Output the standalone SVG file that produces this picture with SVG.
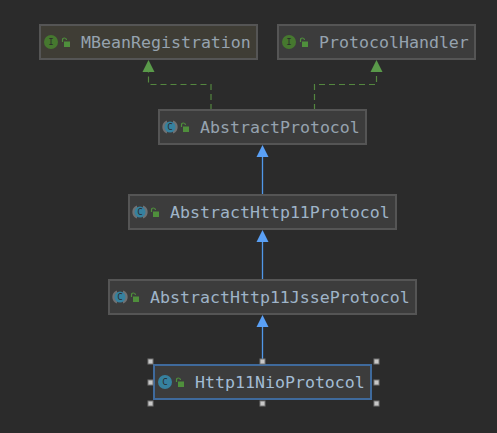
<svg xmlns="http://www.w3.org/2000/svg" width="497" height="433" viewBox="0 0 497 433">
<style>
.box{fill:#3c3c3c;stroke:#555555;stroke-width:2}
.t{font-family:"DejaVu Sans Mono","Liberation Mono",monospace;font-size:16.6px;fill:#96a3af}
.dash{fill:none;stroke:#54873f;stroke-width:1.2;stroke-dasharray:6 4}
.solid{fill:none;stroke:#5097e8;stroke-width:1.3}
.ha{fill:#5a9a4a}
.ba{fill:#5aa0f5}
.ic{fill:#46782f}
.cc{fill:#36819f}
.il{font-family:"DejaVu Sans Mono",monospace;font-size:9px;text-anchor:middle}
.lock{fill:#4f8f3c}
.shackle{fill:none;stroke:#4f8f3c;stroke-width:1.2}
.h{fill:#c8c8c8;stroke:#777;stroke-width:1}
</style>
<defs>
<g id="lk"><rect x="1.500" y="2.500" width="6" height="5.500" class="lock"/><path d="M0 3V1Q0 -1 2 -1Q3.800 -1 4 1" class="shackle"/></g>
<g id="abs"><path d="M-3 -6.600A7 7 0 0 0 -3 6.600ZM3 -6.600A7 7 0 0 1 3 6.600Z" fill="#6f7173"/></g>
</defs>
<rect width="497" height="433" fill="#2b2b2b"/>
<g id="connectors">
<path class="dash" d="M211 110V84.500H148.500V71"/>
<path class="dash" d="M314.500 110V84.500H376.500V71"/>
<path class="solid" d="M262.500 195V156M262.500 280V241M262.500 365V326"/>
<path class="ha" d="M148.500 60L154.500 72H142.500Z"/>
<path class="ha" d="M376.500 60L382.500 72H370.500Z"/>
<path class="ba" d="M262.500 145L268.500 157H256.500Z"/>
<path class="ba" d="M262.500 230L268.500 242H256.500Z"/>
<path class="ba" d="M262.500 315L268.500 327H256.500Z"/>
</g>
<g id="node-mbean">
<rect x="40" y="25" width="217" height="34" class="box" style="fill:#3f3d35"/>
<circle cx="51" cy="42" r="7" class="ic"/><text x="51" y="45" class="il" fill="#2b2b2b">I</text>
<use href="#lk" x="62.500" y="39"/>
<text x="81" y="48" class="t">MBeanRegistration</text>
</g>
<g id="node-handler">
<rect x="278" y="25" width="197" height="34" class="box"/>
<circle cx="289" cy="42" r="7" class="ic"/><text x="289" y="45" class="il" fill="#2b2b2b">I</text>
<use href="#lk" x="300.500" y="39"/>
<text x="319" y="48" class="t">ProtocolHandler</text>
</g>
<g id="node-abstract">
<rect x="159" y="110" width="207" height="34" class="box"/>
<use href="#abs" x="170" y="127"/><circle cx="170" cy="127" r="5.500" class="cc"/><text x="170" y="130" class="il" fill="#2b2b2b">C</text>
<use href="#lk" x="181.500" y="124"/>
<text x="200" y="133" class="t">AbstractProtocol</text>
</g>
<g id="node-http11">
<rect x="129" y="195" width="267" height="34" class="box"/>
<use href="#abs" x="140" y="212"/><circle cx="140" cy="212" r="5.500" class="cc"/><text x="140" y="215" class="il" fill="#2b2b2b">C</text>
<use href="#lk" x="151.500" y="209"/>
<text x="170" y="218" class="t" style="fill:#9fb4c8">AbstractHttp11Protocol</text>
</g>
<g id="node-jsse">
<rect x="109" y="280" width="307" height="34" class="box"/>
<use href="#abs" x="120" y="297"/><circle cx="120" cy="297" r="5.500" class="cc"/><text x="120" y="300" class="il" fill="#2b2b2b">C</text>
<use href="#lk" x="131.500" y="294"/>
<text x="150" y="303" class="t" style="fill:#9fb4c8">AbstractHttp11JsseProtocol</text>
</g>
<g id="node-nio">
<rect x="154" y="365" width="217" height="34" class="box" style="stroke:#3f6a9c"/>
<circle cx="165" cy="382" r="7" class="cc"/><text x="165" y="385" class="il" fill="#2b2b2b">C</text>
<use href="#lk" x="176.500" y="379"/>
<text x="195" y="388" class="t" style="fill:#a3bcd4">Http11NioProtocol</text>
<rect x="148" y="359" width="5" height="5" class="h"/><rect x="260" y="359" width="5" height="5" class="h"/><rect x="374" y="359" width="5" height="5" class="h"/>
<rect x="148" y="380" width="5" height="5" class="h"/><rect x="374" y="380" width="5" height="5" class="h"/>
<rect x="148" y="401" width="5" height="5" class="h"/><rect x="260" y="401" width="5" height="5" class="h"/><rect x="374" y="401" width="5" height="5" class="h"/>
</g>
</svg>
